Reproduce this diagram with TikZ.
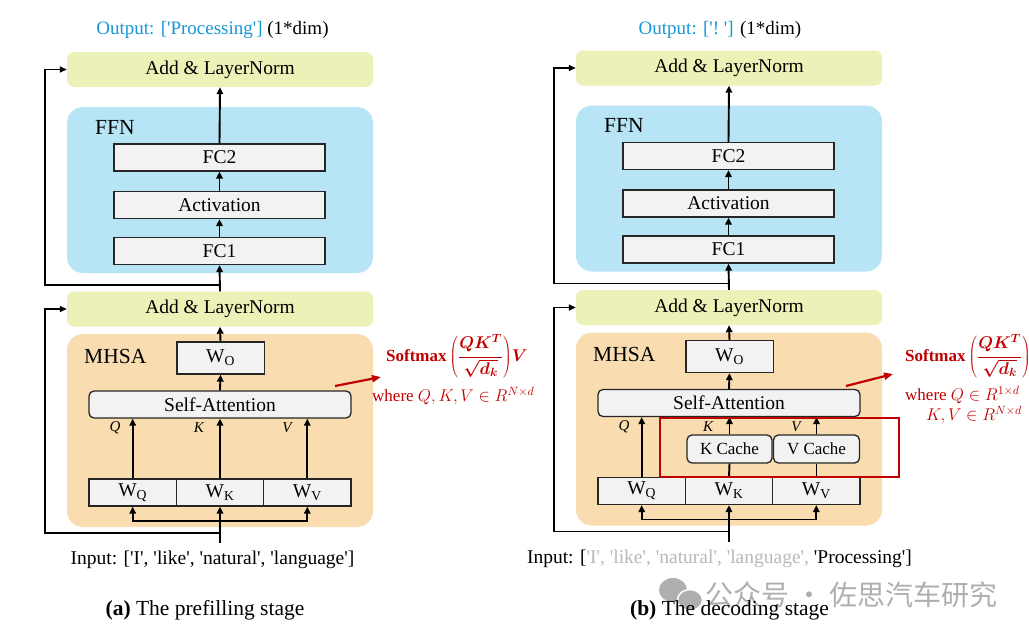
\RequirePackage{fix-cm}
\documentclass[tikz,border=0pt]{standalone}
\usepackage{fontspec}
\setmainfont{Liberation Serif}[Ligatures=TeXOff]
\newfontfamily\cjk{Noto Sans CJK SC}
\usetikzlibrary{arrows.meta}
\definecolor{addcol}{RGB}{236,241,184}
\definecolor{ffncol}{RGB}{183,229,245}
\definecolor{mhsacol}{RGB}{249,220,176}
\definecolor{boxcol}{RGB}{242,242,242}
\definecolor{outblue}{RGB}{22,152,216}
\definecolor{redc}{RGB}{192,0,0}
\definecolor{qgray}{RGB}{185,185,185}
\definecolor{wmgray}{RGB}{175,175,175}
\newcommand\fs[1]{\fontsize{#1}{#1}\selectfont}
\tikzset{
 addln/.style={fill=addcol, rounded corners=7pt, minimum width=306pt, minimum height=35pt, font=\fs{19.5}, inner sep=0pt},
 bgbox/.style={rounded corners=16pt, minimum width=306pt, inner sep=0pt},
 ffnbg/.style={bgbox, fill=ffncol, minimum height=166pt},
 mhsabg/.style={bgbox, fill=mhsacol, minimum height=193pt},
 plainbox/.style={draw=black!85, line width=1.3pt, fill=boxcol, font=\fs{19.5}, inner sep=0pt},
 fcbox/.style={plainbox, minimum width=211pt, minimum height=27pt},
 wbox/.style={plainbox, minimum width=87.3pt, minimum height=27pt},
 sabox/.style={plainbox, rounded corners=5pt, minimum width=262pt, minimum height=27pt},
 cachebox/.style={plainbox, rounded corners=5pt, minimum width=85pt, minimum height=28pt, font=\fs{17}},
 lbl/.style={font=\fs{21.5}, inner sep=0pt},
 qkv/.style={font=\fs{15}\itshape, inner sep=0pt},
 arr/.style={line width=1.9pt, -{Triangle[length=7pt,width=6.5pt]}},
 resarr/.style={line width=1.4pt, -{Triangle[length=7pt,width=6pt]}},
 redarr/.style={draw=redc, line width=2.2pt, -{Triangle[length=9pt,width=7pt]}},
 redbox/.style={draw=redc, line width=2.2pt, minimum width=239pt, minimum height=59pt, inner sep=0pt},
 ftxt/.style={text=redc, inner sep=0pt, font=\fs{17}},
 txt/.style={inner sep=0pt, font=\fs{19.5}},
}
\newcommand\panel[1]{%
 \node[addln] (#1top) at (220,69.5) {Add \& LayerNorm};
 \node[ffnbg] (#1ffn) at (220,190) {};
 \node[lbl,anchor=west] (#1ffnl) at (95,127) {FFN};
 \node[fcbox] (#1fc2) at (219.5,157.5) {FC2};
 \node[fcbox] (#1act) at (219.5,205) {Activation};
 \node[fcbox] (#1fc1) at (219.5,251) {FC1};
 \node[addln] (#1bot) at (220,309) {Add \& LayerNorm};
 \node[mhsabg] (#1mhsa) at (220,430.5) {};
 \node[lbl,anchor=west] (#1mhsal) at (84,356) {MHSA};
 \node[wbox, minimum height=32pt] (#1wo) at (220.5,358) {W\textsubscript{O}};
 \node[sabox] (#1sa) at (220,404.5) {Self-Attention};
 \node[wbox] (#1wq) at (132.7,492.5) {W\textsubscript{Q}};
 \node[wbox] (#1wk) at (220,492.5) {W\textsubscript{K}};
 \node[wbox] (#1wv) at (307.3,492.5) {W\textsubscript{V}};
 \node[qkv] (#1ql) at (115,428) {Q};
 \node[qkv] (#1kl) at (199,428) {K};
 \node[qkv] (#1vl) at (287,428) {V};
 \coordinate (#1r1) at (220,285);
 \coordinate (#1c1) at (45,285);
 \coordinate (#1r2) at (220,533);
 \coordinate (#1c2) at (45,533);
 \coordinate (#1in) at (220,543);
 \coordinate (#1br) at (220,521);
 \draw[arr] (#1fc2.north) -- (#1top.south);
 \draw[arr] (#1act.north) -- (#1fc2.south);
 \draw[arr] (#1fc1.north) -- (#1act.south);
 \draw[arr] (#1bot.north) -- (#1fc1.south);
 \draw[resarr] (#1r1) -- (#1c1) |- (#1top.west);
 \draw[arr] (#1wo.north) -- (#1bot.south);
 \draw[arr] (#1sa.north) -- (#1wo.south);
 \draw[arr] (#1in) -- (#1wk.south);
 \draw[arr] (#1br) -| (#1wq.south);
 \draw[arr] (#1br) -| (#1wv.south);
 \draw[resarr] (#1r2) -- (#1c2) |- (#1bot.west);
 \draw[arr] (#1wq.north) -- (#1wq.north |- #1sa.south);
}
\begin{document}
\begin{tikzpicture}[x=1pt,y=-1pt]
\useasboundingbox (0,0) rectangle (1029,637);
\clip (0,0) rectangle (1029,637);
\fill[white] (0,0) rectangle (1029,637);
% ---------- left panel
\begin{scope}
\panel{a}
\draw[arr] (awk.north) -- (awk.north |- asa.south);
\draw[arr] (awv.north) -- (awv.north |- asa.south);
\end{scope}
\node[txt, font=\fs{19}] (oa) at (212.5,30) {\textcolor{outblue}{Output: ['Processing']} (1*dim)};
\node[txt] (ia) at (212.5,560) {Input: ['I', 'like', 'natural', 'language']};
\node[txt, font=\fs{21.5}] (capa) at (205,610) {\textbf{(a)} The prefilling stage};
\coordinate (ra1) at (335,386);
\coordinate (ra2) at (381,377);
\draw[redarr] (ra1) -- (ra2);
\node[ftxt, anchor=west] (fa) at (386,357) {\textbf{Softmax}\,{\boldmath$\displaystyle\left(\frac{QK^T}{\sqrt{d_k}\vphantom{d_k^1}}\right)\!V$}};
\node[ftxt, anchor=west] (wa) at (372,396) {where $Q,K,V\in R^{N\times d}$};
% ---------- right panel
\begin{scope}[shift={(509,-1.5)}]
\panel{b}
\node[cachebox] (bkc) at (220.5,450.5) {K Cache};
\node[cachebox, minimum width=86pt] (bvc) at (307.5,450.5) {V Cache};
\draw[line width=1.9pt] (bwk.north) -- (bkc.south);
\draw[line width=1.9pt] (bwv.north -| bvc.south) -- (bvc.south);
\draw[arr] (bkc.north) -- (bkc.north |- bsa.south);
\draw[arr] (bvc.north) -- (bvc.north |- bsa.south);
\node[redbox] (bred) at (270.5,449) {};
\end{scope}
\node[txt, font=\fs{19}] (ob) at (720,30) {\textcolor{outblue}{Output: ['!\ ']} (1*dim)};
\node[txt] (ib) at (719.5,559) {Input: [\textcolor{qgray}{'I', 'like', 'natural', 'language', }'Processing']};
% watermark
\fill[wmgray] (673,590) ellipse (14 and 12);
\filldraw[wmgray, draw=white, line width=1.5pt] (690,600) ellipse (12.5 and 10.5);
\node[txt, font=\cjk\fs{28}, text=wmgray, anchor=west] (wm) at (705,595) {公众号 · 佐思汽车研究};
\node[txt, font=\fs{21.5}] (capb) at (729.5,610) {\textbf{(b)} The decoding stage};
\coordinate (rb1) at (846,386);
\coordinate (rb2) at (893,374);
\draw[redarr] (rb1) -- (rb2);
\node[ftxt, anchor=west] (fb) at (905,357) {\textbf{Softmax}\,{\boldmath$\displaystyle\left(\frac{QK^T}{\sqrt{d_k}\vphantom{d_k^1}}\right)\!V$}};
\node[ftxt, anchor=west] (wb1) at (905,395) {where $Q\in R^{1\times d}$};
\node[ftxt, anchor=west] (wb2) at (926,415) {$K,V\in R^{N\times d}$};
\end{tikzpicture}
\end{document}
